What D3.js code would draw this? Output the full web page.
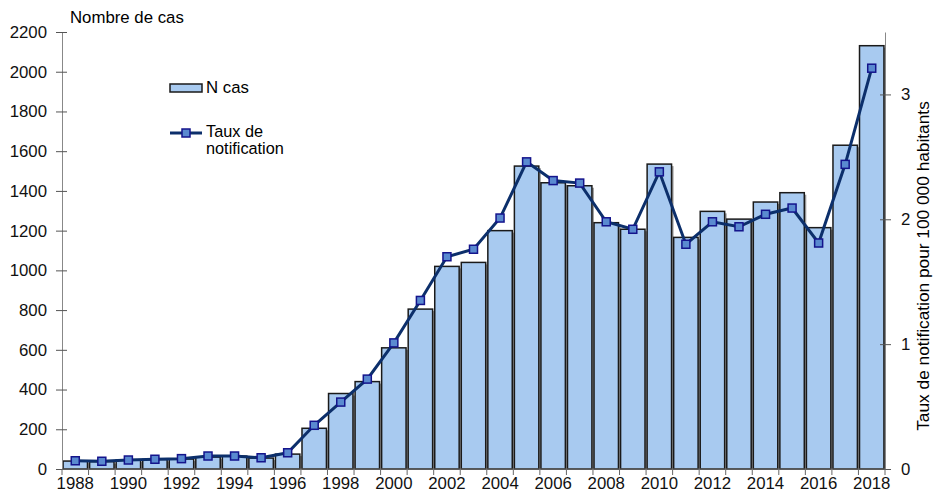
<!DOCTYPE html>
<html>
<head>
<meta charset="utf-8">
<script src="https://cdn.jsdelivr.net/npm/d3@7"></script>
<style>
body { margin: 0; background: #fff; }
svg { font-family: "Liberation Sans", Arial, sans-serif; }
</style>
</head>
<body>
<svg width="938" height="492"></svg>
<script>
// data
var years = d3.range(1988, 2019);
var cases = [40, 37, 45, 48, 50, 60, 65, 55, 75, 205, 380, 440, 610, 805, 1020, 1040, 1200, 1525, 1441, 1426, 1240, 1207, 1535, 1166, 1297, 1258, 1344, 1391, 1215, 1630, 2131];
var rates = [0.066, 0.062, 0.072, 0.078, 0.083, 0.104, 0.104, 0.09, 0.13, 0.35, 0.536, 0.72, 1.01, 1.35, 1.70, 1.76, 2.01, 2.46, 2.31, 2.29, 1.98, 1.92, 2.38, 1.80, 1.98, 1.94, 2.04, 2.09, 1.81, 2.44, 3.21];
var leftTicks = d3.range(0, 2201, 200);
var rightTicks = [0, 1, 2, 3];
var labelYears = years.filter(function(y) { return y % 2 === 0; });

var svg = d3.select("svg");
var plotL = 62, plotR = 885, plotT = 32, plotB = 469;
var fs = 16.8;

var x = d3.scaleBand().domain(years).range([plotL, plotR]).paddingInner(0.08).paddingOuter(0.04);
var y = d3.scaleLinear().domain([0, 2200]).range([plotB, plotT]);
var y2 = d3.scaleLinear().domain([0, 3.5]).range([plotB, plotT]);
var step = (plotR - plotL) / years.length;

var data = years.map(function(yr, i) { return {year: yr, n: cases[i], r: rates[i]}; });

// bars (shadow then bar)
svg.append("g").selectAll("rect")
  .data(data)
  .enter().append("rect")
  .attr("x", function(d) { return x(d.year) + 2; })
  .attr("y", function(d) { return y(d.n) + 2; })
  .attr("width", x.bandwidth())
  .attr("height", function(d) { return Math.max(0, plotB - y(d.n) - 2); })
  .attr("fill", "#9a9a9a");

svg.append("g").selectAll("rect")
  .data(data)
  .enter().append("rect")
  .attr("class", "bar")
  .attr("x", function(d) { return x(d.year); })
  .attr("y", function(d) { return y(d.n); })
  .attr("width", x.bandwidth())
  .attr("height", function(d) { return plotB - y(d.n); })
  .attr("fill", "#a8caf0")
  .attr("stroke", "#1a1a1a")
  .attr("stroke-width", 1.5);

// left axis
var gl = svg.append("g")
  .attr("transform", "translate(" + plotL + ",0)")
  .call(d3.axisLeft(y).tickValues(leftTicks).tickFormat(d3.format("d")).tickSize(5).tickSizeOuter(0).tickPadding(10));
gl.selectAll(".tick line").attr("x2", 5).attr("x1", -6);

// right axis
var gr = svg.append("g")
  .attr("transform", "translate(" + plotR + ",0)")
  .call(d3.axisRight(y2).tickValues(rightTicks).tickFormat(d3.format("d")).tickSize(6).tickSizeOuter(0).tickPadding(10));
gr.selectAll(".tick line").attr("x1", -5);

// bottom axis: labels on even years, ticks on year boundaries
var gb = svg.append("g")
  .attr("transform", "translate(0," + plotB + ")")
  .call(d3.axisBottom(x).tickValues(labelYears).tickSize(0).tickPadding(8.5));
gb.select(".domain").remove();
svg.append("line")
  .attr("x1", plotL).attr("x2", plotR)
  .attr("y1", plotB).attr("y2", plotB)
  .attr("stroke", "#666");
svg.append("g").selectAll("line")
  .data(d3.range(years.length + 1))
  .enter().append("line")
  .attr("x1", function(i) { return plotL + i * step; })
  .attr("x2", function(i) { return plotL + i * step; })
  .attr("y1", plotB).attr("y2", plotB + 6)
  .attr("stroke", "#666");

svg.selectAll(".domain").attr("stroke", "#888");
svg.selectAll(".tick line").attr("stroke", "#555");
svg.selectAll(".tick text").attr("font-size", fs).attr("fill", "#111")
  .style("font-family", "'Liberation Sans', Arial, sans-serif");

// line + markers
var line = d3.line()
  .x(function(d) { return x(d.year) + x.bandwidth() / 2; })
  .y(function(d) { return y2(d.r); });

svg.append("path")
  .datum(data)
  .attr("d", line)
  .attr("fill", "none")
  .attr("stroke", "#0c2f6b")
  .attr("stroke-width", 3);

svg.append("g").selectAll("rect")
  .data(data)
  .enter().append("rect")
  .attr("x", function(d) { return x(d.year) + x.bandwidth() / 2 - 4; })
  .attr("y", function(d) { return y2(d.r) - 4; })
  .attr("width", 8).attr("height", 8)
  .attr("fill", "#5a8ad0")
  .attr("stroke", "#14148c")
  .attr("stroke-width", 1.5);

// titles
svg.append("text")
  .attr("x", 70).attr("y", 23)
  .attr("font-size", fs)
  .text("Nombre de cas");

svg.append("text")
  .attr("transform", "translate(929,266) rotate(-90)")
  .attr("text-anchor", "middle")
  .attr("font-size", 17.3)
  .text("Taux de notification pour 100 000 habitants");

// legend
svg.append("rect")
  .attr("x", 170).attr("y", 84).attr("width", 32).attr("height", 8)
  .attr("fill", "#a8caf0").attr("stroke", "#1a1a1a").attr("stroke-width", 1.5);
svg.append("text").attr("x", 206).attr("y", 93).attr("font-size", fs).text("N cas");

svg.append("line")
  .attr("x1", 170).attr("x2", 202).attr("y1", 133).attr("y2", 133)
  .attr("stroke", "#0c2f6b").attr("stroke-width", 3);
svg.append("rect")
  .attr("x", 182).attr("y", 129).attr("width", 8).attr("height", 8)
  .attr("fill", "#5a8ad0").attr("stroke", "#14148c").attr("stroke-width", 1.5);
svg.append("text").attr("x", 206).attr("y", 137).attr("font-size", 16.3).text("Taux de");
svg.append("text").attr("x", 206).attr("y", 154).attr("font-size", 16.3).text("notification");
</script>
</body>
</html>
